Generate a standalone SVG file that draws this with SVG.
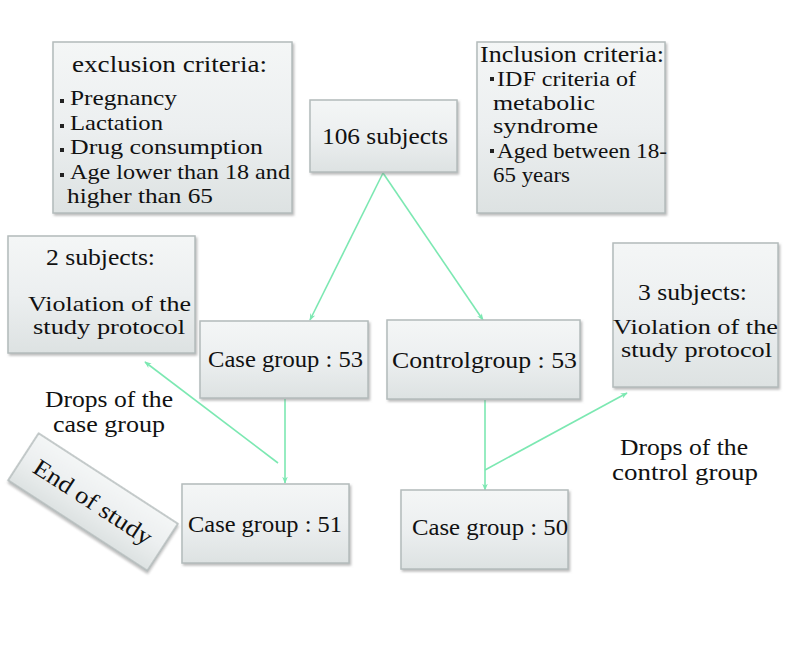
<svg xmlns="http://www.w3.org/2000/svg" width="794" height="650" viewBox="0 0 794 650">
<defs>
<linearGradient id="boxg" x1="0" y1="0" x2="0" y2="1">
<stop offset="0" stop-color="#f4f6f6"/>
<stop offset="0.5" stop-color="#eceff0"/>
<stop offset="1" stop-color="#dde2e2"/>
</linearGradient>
<filter id="sh" x="-10%" y="-10%" width="130%" height="130%">
<feDropShadow dx="1.5" dy="2" stdDeviation="1.2" flood-color="#888" flood-opacity="0.55"/>
</filter>
<marker id="ah" viewBox="0 0 10 10" refX="9" refY="5" markerWidth="7" markerHeight="7" orient="auto" markerUnits="userSpaceOnUse">
<path d="M0,1 L10,5 L0,9 L3,5 Z" fill="#7ce8b2"/>
</marker>
<style>
.box{fill:url(#boxg);stroke:#b3bbbb;stroke-width:1.5;filter:url(#sh)}
text{font-family:"Liberation Serif","Times New Roman",serif;fill:#111111}
.t24{font-size:24px}
.t22{font-size:22px}
.bul{fill:#222}
.con{stroke:#7ce8b2;stroke-width:1.6;fill:none;marker-end:url(#ah)}
</style>
</defs>
<rect width="794" height="650" fill="#ffffff"/>

<g id="connectors">
<line class="con" x1="383" y1="173" x2="310" y2="320"/>
<line class="con" x1="383" y1="173" x2="483" y2="320"/>
<line class="con" x1="285" y1="399" x2="285" y2="483"/>
<line class="con" x1="278" y1="463" x2="145" y2="362"/>
<line class="con" x1="485" y1="400" x2="485" y2="490"/>
<line class="con" x1="485" y1="470" x2="627" y2="393"/>
</g>

<g id="exclusion">
<rect class="box" x="53" y="42" width="239" height="171"/>
<text class="t24" x="72" y="72" textLength="195" lengthAdjust="spacingAndGlyphs">exclusion criteria:</text>
<rect class="bul" x="60" y="99" width="4" height="4"/>
<text class="t22" x="70" y="105" textLength="107" lengthAdjust="spacingAndGlyphs">Pregnancy</text>
<rect class="bul" x="60" y="124" width="4" height="4"/>
<text class="t22" x="70" y="130" textLength="93" lengthAdjust="spacingAndGlyphs">Lactation</text>
<rect class="bul" x="60" y="148" width="4" height="4"/>
<text class="t22" x="70" y="154" textLength="193" lengthAdjust="spacingAndGlyphs">Drug consumption</text>
<rect class="bul" x="60" y="173" width="4" height="4"/>
<text class="t22" x="70" y="179" textLength="220" lengthAdjust="spacingAndGlyphs">Age lower than 18 and</text>
<text class="t22" x="67" y="203" textLength="146" lengthAdjust="spacingAndGlyphs">higher than 65</text>
</g>

<g id="subjects106">
<rect class="box" x="310" y="100" width="147" height="72"/>
<text class="t24" x="322" y="144" textLength="126" lengthAdjust="spacingAndGlyphs">106 subjects</text>
</g>

<g id="inclusion">
<rect class="box" x="477" y="42" width="188" height="171"/>
<text class="t24" x="480" y="62" textLength="184" lengthAdjust="spacingAndGlyphs">Inclusion criteria:</text>
<rect class="bul" x="490" y="77" width="4" height="4"/>
<text class="t22" x="497" y="86" textLength="139" lengthAdjust="spacingAndGlyphs">IDF criteria of</text>
<text class="t22" x="493" y="110" textLength="102" lengthAdjust="spacingAndGlyphs">metabolic</text>
<text class="t22" x="493" y="133" textLength="105" lengthAdjust="spacingAndGlyphs">syndrome</text>
<rect class="bul" x="490" y="149" width="4" height="4"/>
<text class="t22" x="497" y="158" textLength="170" lengthAdjust="spacingAndGlyphs">Aged between 18-</text>
<text class="t22" x="493" y="182" textLength="77" lengthAdjust="spacingAndGlyphs">65 years</text>
</g>

<g id="drop2">
<rect class="box" x="8" y="236" width="187" height="117"/>
<text class="t24" x="46" y="265" textLength="109" lengthAdjust="spacingAndGlyphs">2 subjects:</text>
<text class="t22" x="28" y="311" textLength="163" lengthAdjust="spacingAndGlyphs">Violation of the</text>
<text class="t22" x="33" y="334" textLength="152" lengthAdjust="spacingAndGlyphs">study protocol</text>
</g>

<g id="case53">
<rect class="box" x="200" y="321" width="168" height="77"/>
<text class="t24" x="208" y="367" textLength="155" lengthAdjust="spacingAndGlyphs">Case group : 53</text>
</g>

<g id="control53">
<rect class="box" x="387" y="320" width="193" height="79"/>
<text class="t24" x="392" y="368" textLength="185" lengthAdjust="spacingAndGlyphs">Controlgroup : 53</text>
</g>

<g id="drop3">
<rect class="box" x="613" y="243" width="165" height="144"/>
<text class="t24" x="638" y="300" textLength="109" lengthAdjust="spacingAndGlyphs">3 subjects:</text>
<text class="t22" x="613" y="334" textLength="165" lengthAdjust="spacingAndGlyphs">Violation of the</text>
<text class="t22" x="621" y="357" textLength="151" lengthAdjust="spacingAndGlyphs">study protocol</text>
</g>

<g id="dropsCaseLabel">
<text class="t24" x="45" y="407" textLength="128" lengthAdjust="spacingAndGlyphs">Drops of the</text>
<text class="t24" x="53" y="432" textLength="112" lengthAdjust="spacingAndGlyphs">case group</text>
</g>

<g id="dropsControlLabel">
<text class="t24" x="620" y="455" textLength="128" lengthAdjust="spacingAndGlyphs">Drops of the</text>
<text class="t24" x="612" y="480" textLength="146" lengthAdjust="spacingAndGlyphs">control group</text>
</g>

<g id="endOfStudy" transform="translate(93,502) rotate(33)">
<rect class="box" x="-83" y="-28" width="166" height="56"/>
<text class="t24" x="0" y="8" text-anchor="middle" textLength="137" lengthAdjust="spacingAndGlyphs">End of study</text>
</g>

<g id="case51">
<rect class="box" x="182" y="484" width="167" height="79"/>
<text class="t24" x="188" y="532" textLength="154" lengthAdjust="spacingAndGlyphs">Case group : 51</text>
</g>

<g id="case50">
<rect class="box" x="401" y="490" width="167" height="79"/>
<text class="t24" x="412" y="535" textLength="156" lengthAdjust="spacingAndGlyphs">Case group : 50</text>
</g>
</svg>
